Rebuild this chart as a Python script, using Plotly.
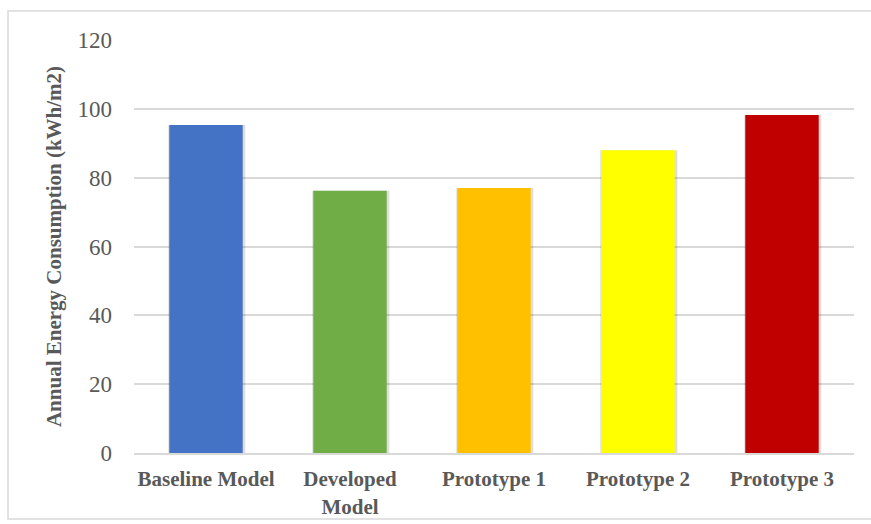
import plotly.graph_objects as go

categories = ["Baseline Model", "Developed<br>Model", "Prototype 1", "Prototype 2", "Prototype 3"]
consumption = [95.3, 76.2, 77.0, 88.0, 98.2]
bar_colors = ["#4472C4", "#70AD47", "#FFC000", "#FFFF00", "#C00000"]
y_ticks = [0, 20, 40, 60, 80, 100, 120]

serif = "Liberation Serif, Times New Roman, serif"

fig = go.Figure()

# soft drop shadow behind each bar
fig.add_trace(go.Bar(
    x=categories, y=consumption,
    marker=dict(color="rgba(0,0,0,0.13)", line=dict(width=0)),
    width=0.535, offset=-0.262,
    hoverinfo="skip", showlegend=False,
))
fig.add_trace(go.Bar(
    x=categories, y=consumption,
    marker=dict(color=bar_colors, line=dict(width=0)),
    width=0.51, offset=-0.255,
    showlegend=False,
))

fig.update_layout(
    width=871, height=524,
    barmode="overlay",
    paper_bgcolor="white", plot_bgcolor="white",
    margin=dict(l=134, r=17, t=40, b=71),
    font=dict(family=serif, color="#595959"),
    xaxis=dict(
        showgrid=False, showline=True, linecolor="#D9D9D9", linewidth=2,
        ticks="", tickfont=dict(size=21, color="#595959", family=serif),
        tickangle=0, ticklabelstandoff=6, automargin=False,
    ),
    yaxis=dict(
        range=[0, 120], tickvals=y_ticks,
        showgrid=True, gridcolor="#D9D9D9", gridwidth=1.5,
        zeroline=False, showline=False, ticks="",
        ticklabelstandoff=21, automargin=False,
        tickfont=dict(size=23, color="#595959", family=serif),
        title=dict(
            text="<b>Annual Energy Consumption (kWh/m2)</b>",
            font=dict(size=21, color="#595959", family=serif),
            standoff=10,
        ),
    ),
    shapes=[dict(
        type="rect", xref="paper", yref="paper",
        x0=-0.175, x1=1.05, y0=-0.16, y1=1.07,
        line=dict(color="#D9D9D9", width=1.5), fillcolor="rgba(0,0,0,0)",
        layer="below",
    )],
)

# bold category labels
fig.update_xaxes(ticktext=["<b>" + c + "</b>" for c in categories], tickvals=categories)

fig.write_html("out.html")
